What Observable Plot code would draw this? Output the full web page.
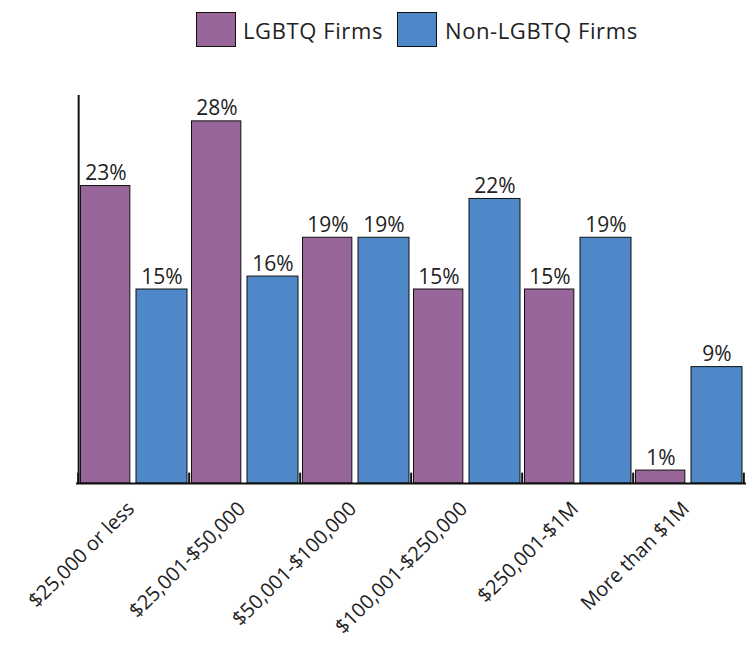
<!DOCTYPE html>
<html>
<head>
<meta charset="utf-8">
<script src="https://cdn.jsdelivr.net/npm/d3@7"></script>
<script src="https://cdn.jsdelivr.net/npm/@observablehq/plot@0.6"></script>
<style>
  html, body { margin: 0; padding: 0; background: #fff; }
  body { width: 752px; height: 647px; overflow: hidden; font-family: "Open Sans", sans-serif; }
  #legend { position: relative; height: 60px; }
  .sw { position: absolute; top: 12px; width: 40px; height: 35px; border: 1.5px solid #111; box-sizing: border-box; }
  .lt { position: absolute; top: 15px; font-size: 22px; line-height: 30px; color: #222; letter-spacing: 0.6px; white-space: nowrap; }
  #chart svg { display: block; }
</style>
</head>
<body>
<div id="legend"></div>
<div id="chart"></div>
<script>
const categories = ["$25,000 or less", "$25,001-$50,000", "$50,001-$100,000", "$100,001-$250,000", "$250,001-$1M", "More than $1M"];
const seriesNames = ["LGBTQ Firms", "Non-LGBTQ Firms"];
const lgbtqValues = [23, 28, 19, 15, 15, 1];
const nonLgbtqValues = [15, 16, 19, 22, 19, 9];
const colors = ["#98669A", "#4E88C8"];

const lgbtqData = categories.map((c, i) => ({category: c, series: seriesNames[0], value: lgbtqValues[i]}));
const nonData = categories.map((c, i) => ({category: c, series: seriesNames[1], value: nonLgbtqValues[i]}));

// Legend
const legend = document.getElementById("legend");
const legendLayout = [{sw: 196, tx: 243}, {sw: 397, tx: 445}];
seriesNames.forEach((name, i) => {
  const s = document.createElement("div");
  s.className = "sw"; s.style.left = legendLayout[i].sw + "px"; s.style.background = colors[i];
  legend.appendChild(s);
  const t = document.createElement("div");
  t.className = "lt"; t.style.left = legendLayout[i].tx + "px"; t.textContent = name;
  legend.appendChild(t);
});

const W = 752, H = 587, mL = 76, mR = 6;
const bw = (W - mL - mR) / categories.length;

const chart = Plot.plot({
  width: W,
  height: H,
  marginLeft: mL,
  marginRight: mR,
  marginTop: 35,
  marginBottom: 164,
  style: {fontFamily: "Open Sans, sans-serif", color: "#222", background: "white"},
  x: {domain: categories, padding: 0, label: null},
  y: {domain: [0, 30], axis: null},
  marks: [
    Plot.barY(lgbtqData, {x: "category", y: "value", fill: colors[0], stroke: "#111", strokeWidth: 1, insetLeft: 2.5, insetRight: bw - 52.5}),
    Plot.barY(nonData, {x: "category", y: "value", fill: colors[1], stroke: "#111", strokeWidth: 1, insetLeft: 58, insetRight: 2}),
    Plot.text(lgbtqData, {x: "category", y: "value", text: d => d.value + "%", dx: -28, dy: -6, lineAnchor: "bottom", fontSize: 21, fill: "#222"}),
    Plot.text(nonData, {x: "category", y: "value", text: d => d.value + "%", dx: 28, dy: -6, lineAnchor: "bottom", fontSize: 21, fill: "#222"}),
    Plot.ruleY([0], {stroke: "#111", strokeWidth: 2}),
    Plot.ruleX([categories[0]], {x: d => d, y1: 0, y2: 30, dx: -bw / 2 + 0.5, stroke: "#111", strokeWidth: 2}),
    Plot.ruleX(categories, {x: d => d, y1: 0, y2: 0.8, dx: -bw / 2, stroke: "#111", strokeWidth: 2}),
    Plot.ruleX([categories[categories.length - 1]], {x: d => d, y1: 0, y2: 0.8, dx: bw / 2 - 1, stroke: "#111", strokeWidth: 2}),
    Plot.axisX({tickRotate: -45, tickSize: 0, tickPadding: 22, dx: -3, fontSize: 20, label: null, fill: "#222", style: {letterSpacing: "1.5px"}})
  ]
});
document.getElementById("chart").appendChild(chart);
</script>
</body>
</html>
